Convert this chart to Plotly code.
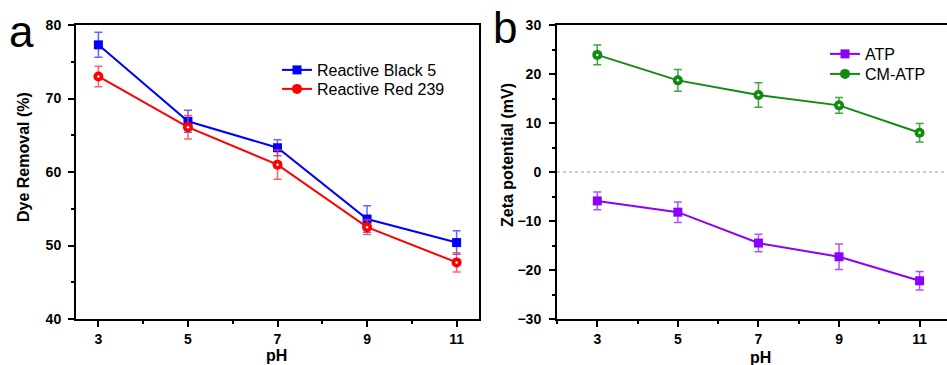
import plotly.graph_objects as go

# pH values shared by both panels
ph = [3, 5, 7, 9, 11]

# Panel a: dye removal (%)
rb5 = [77.3, 66.9, 63.3, 53.6, 50.4]
rb5_err = [1.7, 1.5, 1.1, 1.8, 1.6]
rr239 = [73.0, 66.1, 61.0, 52.5, 47.7]
rr239_err = [1.4, 1.6, 2.0, 1.0, 1.3]

# Panel b: zeta potential (mV)
atp = [-5.9, -8.2, -14.5, -17.3, -22.2]
atp_err = [1.8, 2.1, 1.8, 2.6, 1.9]
cm_atp = [23.9, 18.7, 15.7, 13.6, 8.0]
cm_atp_err = [2.0, 2.2, 2.5, 1.6, 1.9]

W, H = 947, 365
TOP, BOTTOM = 25, 319          # pixel rows of the plot area
FONT = "Liberation Sans, Arial, sans-serif"

BLUE = "#0000ff"
RED = "#ff0000"
PURPLE = "#8b00ff"
GREEN = "#118a11"


def py(pix):
    """paper y coordinate for a pixel row"""
    return (BOTTOM - pix) / (BOTTOM - TOP)


def err(arr, color):
    return dict(type="data", array=arr, color=color, thickness=1.5, width=4)


fig = go.Figure()

fig.add_trace(go.Scatter(
    x=ph, y=rb5, name="Reactive Black 5", mode="lines+markers",
    line=dict(color=BLUE, width=2),
    marker=dict(symbol="square", size=9, color=BLUE),
    error_y=err(rb5_err, "rgba(60,60,255,0.8)"),
    xaxis="x", yaxis="y", legend="legend"))
fig.add_trace(go.Scatter(
    x=ph, y=rr239, name="Reactive Red 239", mode="lines+markers",
    line=dict(color=RED, width=2),
    marker=dict(symbol="circle", size=10, color=RED),
    error_y=err(rr239_err, "rgba(255,60,60,0.8)"),
    xaxis="x", yaxis="y", legend="legend3"))
fig.add_trace(go.Scatter(
    x=ph, y=rr239, mode="markers", showlegend=False, hoverinfo="skip",
    marker=dict(symbol="circle", size=2.5, color="white"),
    xaxis="x", yaxis="y"))

fig.add_trace(go.Scatter(
    x=ph, y=atp, name="ATP", mode="lines+markers",
    line=dict(color=PURPLE, width=2),
    marker=dict(symbol="square", size=9, color=PURPLE),
    error_y=err(atp_err, "rgba(150,40,255,0.8)"),
    xaxis="x2", yaxis="y2", legend="legend2"))
fig.add_trace(go.Scatter(
    x=ph, y=cm_atp, name="CM-ATP", mode="lines+markers",
    line=dict(color=GREEN, width=2),
    marker=dict(symbol="circle", size=10, color=GREEN),
    error_y=err(cm_atp_err, "rgba(30,150,30,0.85)"),
    xaxis="x2", yaxis="y2", legend="legend4"))
fig.add_trace(go.Scatter(
    x=ph, y=cm_atp, mode="markers", showlegend=False, hoverinfo="skip",
    marker=dict(symbol="circle", size=2.5, color="white"),
    xaxis="x2", yaxis="y2"))

axis_common = dict(
    showline=True, linecolor="black", linewidth=2,
    ticks="outside", ticklen=6, tickwidth=2, tickcolor="black",
    showgrid=False, zeroline=False,
    tickfont=dict(family=FONT, size=14, color="black", weight="bold"),
)
minor_x = dict(dtick=1, tick0=0, ticklen=3, tickwidth=2, tickcolor="black", ticks="outside")
minor_y = dict(dtick=5, ticklen=3, tickwidth=2, tickcolor="black", ticks="outside")


def legend_at(x_pix, y_pix):
    return dict(x=x_pix / W, y=py(y_pix), xanchor="left", yanchor="middle",
                bgcolor="rgba(0,0,0,0)", borderwidth=0,
                font=dict(family=FONT, size=16, color="black"))


fig.update_layout(
    width=W, height=H,
    margin=dict(l=0, r=0, t=TOP, b=H - BOTTOM),
    paper_bgcolor="white", plot_bgcolor="white",
    font=dict(family=FONT, color="black"),
    xaxis=dict(domain=[76 / W, 479 / W], range=[2.5, 11.5], tickvals=ph,
               mirror=True, minor=minor_x, anchor="y", **axis_common),
    yaxis=dict(domain=[0, 1], range=[40, 80], dtick=10, mirror=True,
               minor=minor_y, anchor="x", ticklabelstandoff=4, **axis_common),
    xaxis2=dict(domain=[557 / W, 1], range=[2, 11.68], tickvals=ph,
                mirror=True, minor=minor_x, anchor="y2", **axis_common),
    yaxis2=dict(domain=[0, 1], range=[-30, 30], dtick=10, mirror=False,
                minor=minor_y, anchor="x2", ticklabelstandoff=5, **axis_common),
    legend=legend_at(277, 70),
    legend3=legend_at(277, 89),
    legend2=legend_at(825, 54),
    legend4=legend_at(825, 74),
    showlegend=True,
)

# dotted reference line at zero potential
fig.add_shape(type="line", xref="x2 domain", yref="y2", x0=0, x1=1, y0=0, y1=0,
              line=dict(color="#999999", width=1, dash="dot"), layer="below")

bold = dict(family=FONT, size=16, color="black", weight="bold")
annotations = [
    dict(text="a", x=21 / W, y=py(31), font=dict(family=FONT, size=44, color="black")),
    dict(text="b", x=505 / W, y=py(27), font=dict(family=FONT, size=44, color="black")),
    dict(text="Dye Removal (%)", x=23 / W, y=py(157), textangle=-90, font=bold),
    dict(text="Zeta potential (mV)", x=507 / W, y=py(155), textangle=-90, font=bold),
    dict(text="pH", x=276 / W, y=py(355), font=bold),
    dict(text="pH", x=760 / W, y=py(357), font=bold),
]
for a in annotations:
    fig.add_annotation(xref="paper", yref="paper", showarrow=False,
                       xanchor="center", yanchor="middle", **a)

fig.write_html("out.html")
